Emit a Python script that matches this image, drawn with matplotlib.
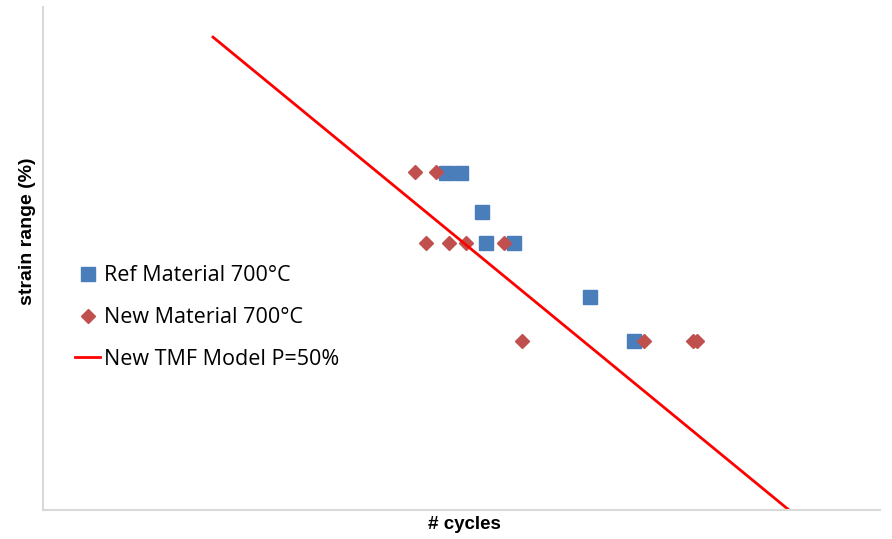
import matplotlib.pyplot as plt

# values (arbitrary units, no scale shown)
ref_x = [403, 418, 439, 443, 471, 547, 591]
ref_y = [337, 337, 298, 267, 267, 213, 169]
new_x = [372, 393, 383, 406, 423, 461, 479, 601, 650, 654]
new_y = [338, 338, 267, 267, 267, 267, 169, 169, 169, 169]
model_x = [170, 746]
model_y = [473, 0]

fig = plt.figure(figsize=(8.92, 5.39), dpi=100)
ax = fig.add_axes([0.0482, 0.0538, 0.9383, 0.933])

ax.plot(ref_x, ref_y, "s", color="#4a7ebb", markersize=10.5, label="Ref Material 700°C")
ax.plot(new_x, new_y, "D", color="#c0504d", markersize=7, label="New Material 700°C")
ax.plot(model_x, model_y, "-", color="#ff0000", linewidth=2, label="New TMF Model P=50%")

ax.set_xlim(0, 837)
ax.set_ylim(0, 503)
ax.set_xticks([])
ax.set_yticks([])
for side in ["top", "right"]:
    ax.spines[side].set_visible(False)
for side in ["left", "bottom"]:
    ax.spines[side].set_color("#d9d9d9")
    ax.spines[side].set_linewidth(1.5)

ax.set_xlabel("# cycles", fontsize=13.5, fontweight="bold", family="Liberation Sans")
ax.set_ylabel("strain range (%)", fontsize=14, fontweight="bold", family="Liberation Sans")
ax.xaxis.set_label_coords(0.504, -0.012)
ax.yaxis.set_label_coords(-0.008, 0.555)

ax.legend(loc="upper left", bbox_to_anchor=(0.0625, 0.5436), bbox_transform=fig.transFigure,
          frameon=False, labelspacing=0.96, handlelength=1.15,
          handletextpad=0.2, prop={"family": "Open Sans", "size": 15.5})

fig.savefig("out.png", dpi=100)
